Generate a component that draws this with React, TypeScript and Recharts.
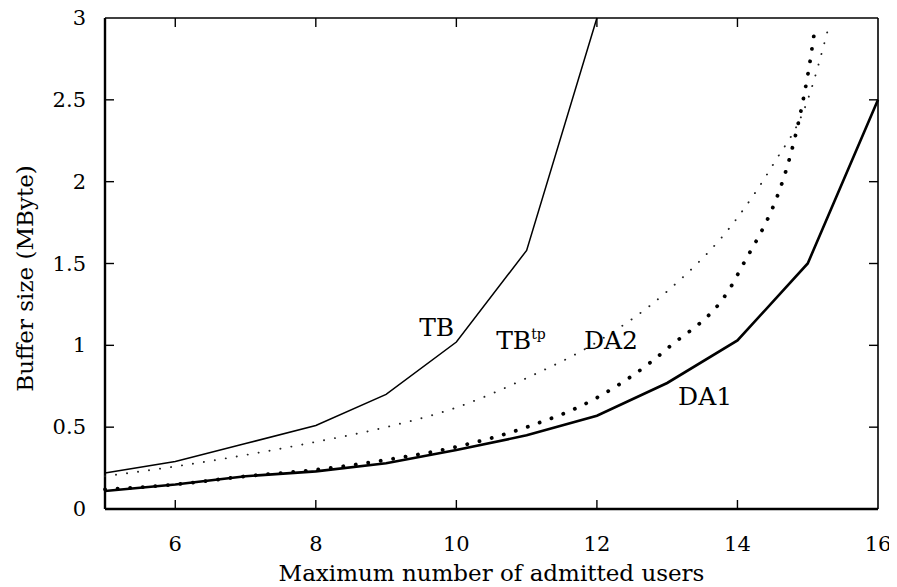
// Buffer size vs. maximum number of admitted users (TB, TB^tp, DA2, DA1)
import React from "react";
import { LineChart, Line, XAxis, YAxis, ReferenceDot, ReferenceLine, Label } from "recharts";

// 축 눈금
const xTicks = [6, 8, 10, 12, 14, 16];
const yTicks = [0, 0.5, 1, 1.5, 2, 2.5, 3];

// 시리즈 값
const tbUsers = [5, 6, 7, 8, 9, 10, 11, 12];
const tbValues = [0.22, 0.29, 0.4, 0.51, 0.7, 1.02, 1.58, 3.0];

const tbtpUsers = [5, 6, 7, 8, 9, 10, 11, 12, 13, 14, 14.5, 15, 15.3];
const tbtpValues = [0.2, 0.26, 0.33, 0.41, 0.5, 0.62, 0.8, 1.02, 1.33, 1.78, 2.1, 2.5, 2.95];

const da2Users = [5, 6, 7, 8, 9, 10, 11, 12, 13, 14, 15, 15.1];
const da2Values = [0.12, 0.15, 0.2, 0.24, 0.3, 0.38, 0.5, 0.68, 0.98, 1.43, 2.65, 2.93];

const da1Users = [5, 6, 7, 8, 9, 10, 11, 12, 13, 14, 15, 16];
const da1Values = [0.11, 0.15, 0.2, 0.23, 0.28, 0.36, 0.45, 0.57, 0.77, 1.03, 1.5, 2.5];

const toRows = (xs: number[], ys: number[]) => xs.map((x, i) => ({ x, y: ys[i] }));

const tbData = toRows(tbUsers, tbValues);
const tbtpData = toRows(tbtpUsers, tbtpValues);
const da2Data = toRows(da2Users, da2Values);
const da1Data = toRows(da1Users, da1Values);

const FONT = "'DejaVu Serif', serif";
const INK = "#000";
const TICK = 9;

const BottomTick = (props: any) => {
  const { x, y, payload } = props;
  return (
    <text x={x} y={y + 40} textAnchor="middle" fontFamily={FONT} fontSize={21} fill={INK}>
      {payload.value}
    </text>
  );
};

const LeftTick = (props: any) => {
  const { x, y, payload } = props;
  return (
    <text x={x - 17} y={y + 7} textAnchor="end" fontFamily={FONT} fontSize={21} fill={INK}>
      {payload.value}
    </text>
  );
};

// 안쪽 눈금: 세로 기준선의 위/아래 끝만 그림
const xTickShape = (props: any) => {
  const { x1, y1, x2, y2 } = props;
  const top = Math.min(y1, y2);
  const bottom = Math.max(y1, y2);
  return (
    <g>
      <line x1={x1} y1={top} x2={x1} y2={top + TICK} stroke={INK} strokeWidth={1.4} />
      <line x1={x2} y1={bottom} x2={x2} y2={bottom - TICK} stroke={INK} strokeWidth={1.4} />
    </g>
  );
};

const yTickShape = (props: any) => {
  const { x1, y1, x2, y2 } = props;
  const left = Math.min(x1, x2);
  const right = Math.max(x1, x2);
  return (
    <g>
      <line x1={left} y1={y1} x2={left + TICK} y2={y1} stroke={INK} strokeWidth={1.4} />
      <line x1={right} y1={y2} x2={right - TICK} y2={y2} stroke={INK} strokeWidth={1.4} />
    </g>
  );
};

const textLabel = (value: string) => (props: any) => {
  const { viewBox } = props;
  return (
    <text x={viewBox.x} y={viewBox.y + 9} textAnchor="middle" fontFamily={FONT} fontSize={25} fill={INK}>
      {value}
    </text>
  );
};

const tbtpLabel = (props: any) => {
  const { viewBox } = props;
  return (
    <text x={viewBox.x} y={viewBox.y + 9} textAnchor="middle" fontFamily={FONT} fontSize={25} fill={INK}>
      TB
      <tspan fontSize={14} dy={-10}>tp</tspan>
    </text>
  );
};

const yTitle = (props: any) => {
  const { viewBox } = props;
  const cx = viewBox.x + 17;
  const cy = viewBox.y + viewBox.height / 2 + 15;
  return (
    <text x={cx} y={cy} transform={`rotate(-90 ${cx} ${cy})`} textAnchor="middle" dominantBaseline="central" fontFamily={FONT} fontSize={23} fill={INK}>
      Buffer size (MByte)
    </text>
  );
};

const App: React.FC = () => {
  return (
    <LineChart width={889} height={579} margin={{ top: 10, right: 19, left: 0, bottom: 0 }}>
      <XAxis
        dataKey="x"
        type="number"
        domain={[5, 16]}
        ticks={xTicks}
        height={78}
        tickSize={0}
        tickLine={false}
        axisLine={false}
        tick={<BottomTick />}
      >
        <Label value="Maximum number of admitted users" position="insideBottom" offset={6} fontFamily={FONT} fontSize={23} fill={INK} />
      </XAxis>
      <YAxis
        type="number"
        domain={[0, 3]}
        ticks={yTicks}
        width={97}
        tickSize={0}
        tickLine={false}
        axisLine={false}
        tick={<LeftTick />}
      >
        <Label content={yTitle} />
      </YAxis>
      {/* 테두리 */}
      <ReferenceLine y={0} stroke={INK} strokeWidth={2.4} ifOverflow="visible" />
      <ReferenceLine y={3} stroke={INK} strokeWidth={1.6} ifOverflow="visible" />
      <ReferenceLine x={5} stroke={INK} strokeWidth={2.4} ifOverflow="visible" />
      <ReferenceLine x={16} stroke={INK} strokeWidth={1.6} ifOverflow="visible" />
      {xTicks.filter((t) => t < 16).map((t) => (
        <ReferenceLine key={`xt${t}`} x={t} shape={xTickShape} ifOverflow="visible" />
      ))}
      {yTicks.filter((t) => t > 0 && t < 3).map((t) => (
        <ReferenceLine key={`yt${t}`} y={t} shape={yTickShape} ifOverflow="visible" />
      ))}
      <Line data={da1Data} dataKey="y" type="linear" stroke={INK} strokeWidth={2.6} dot={false} isAnimationActive={false} />
      <Line data={da2Data} dataKey="y" type="monotone" stroke={INK} strokeWidth={3.8} strokeDasharray="0.1 12.5" strokeLinecap="round" dot={false} isAnimationActive={false} />
      <Line data={tbtpData} dataKey="y" type="monotone" stroke="#222" strokeWidth={1.9} strokeDasharray="0.1 11" strokeLinecap="round" dot={false} isAnimationActive={false} />
      <Line data={tbData} dataKey="y" type="linear" stroke={INK} strokeWidth={1.5} dot={false} isAnimationActive={false} />
      <ReferenceDot x={9.72} y={1.11} r={0} fill="none" stroke="none" label={textLabel("TB")} />
      <ReferenceDot x={10.92} y={1.03} r={0} fill="none" stroke="none" label={tbtpLabel} />
      <ReferenceDot x={12.2} y={1.03} r={0} fill="none" stroke="none" label={textLabel("DA2")} />
      <ReferenceDot x={13.54} y={0.69} r={0} fill="none" stroke="none" label={textLabel("DA1")} />
    </LineChart>
  );
};

export default App;
